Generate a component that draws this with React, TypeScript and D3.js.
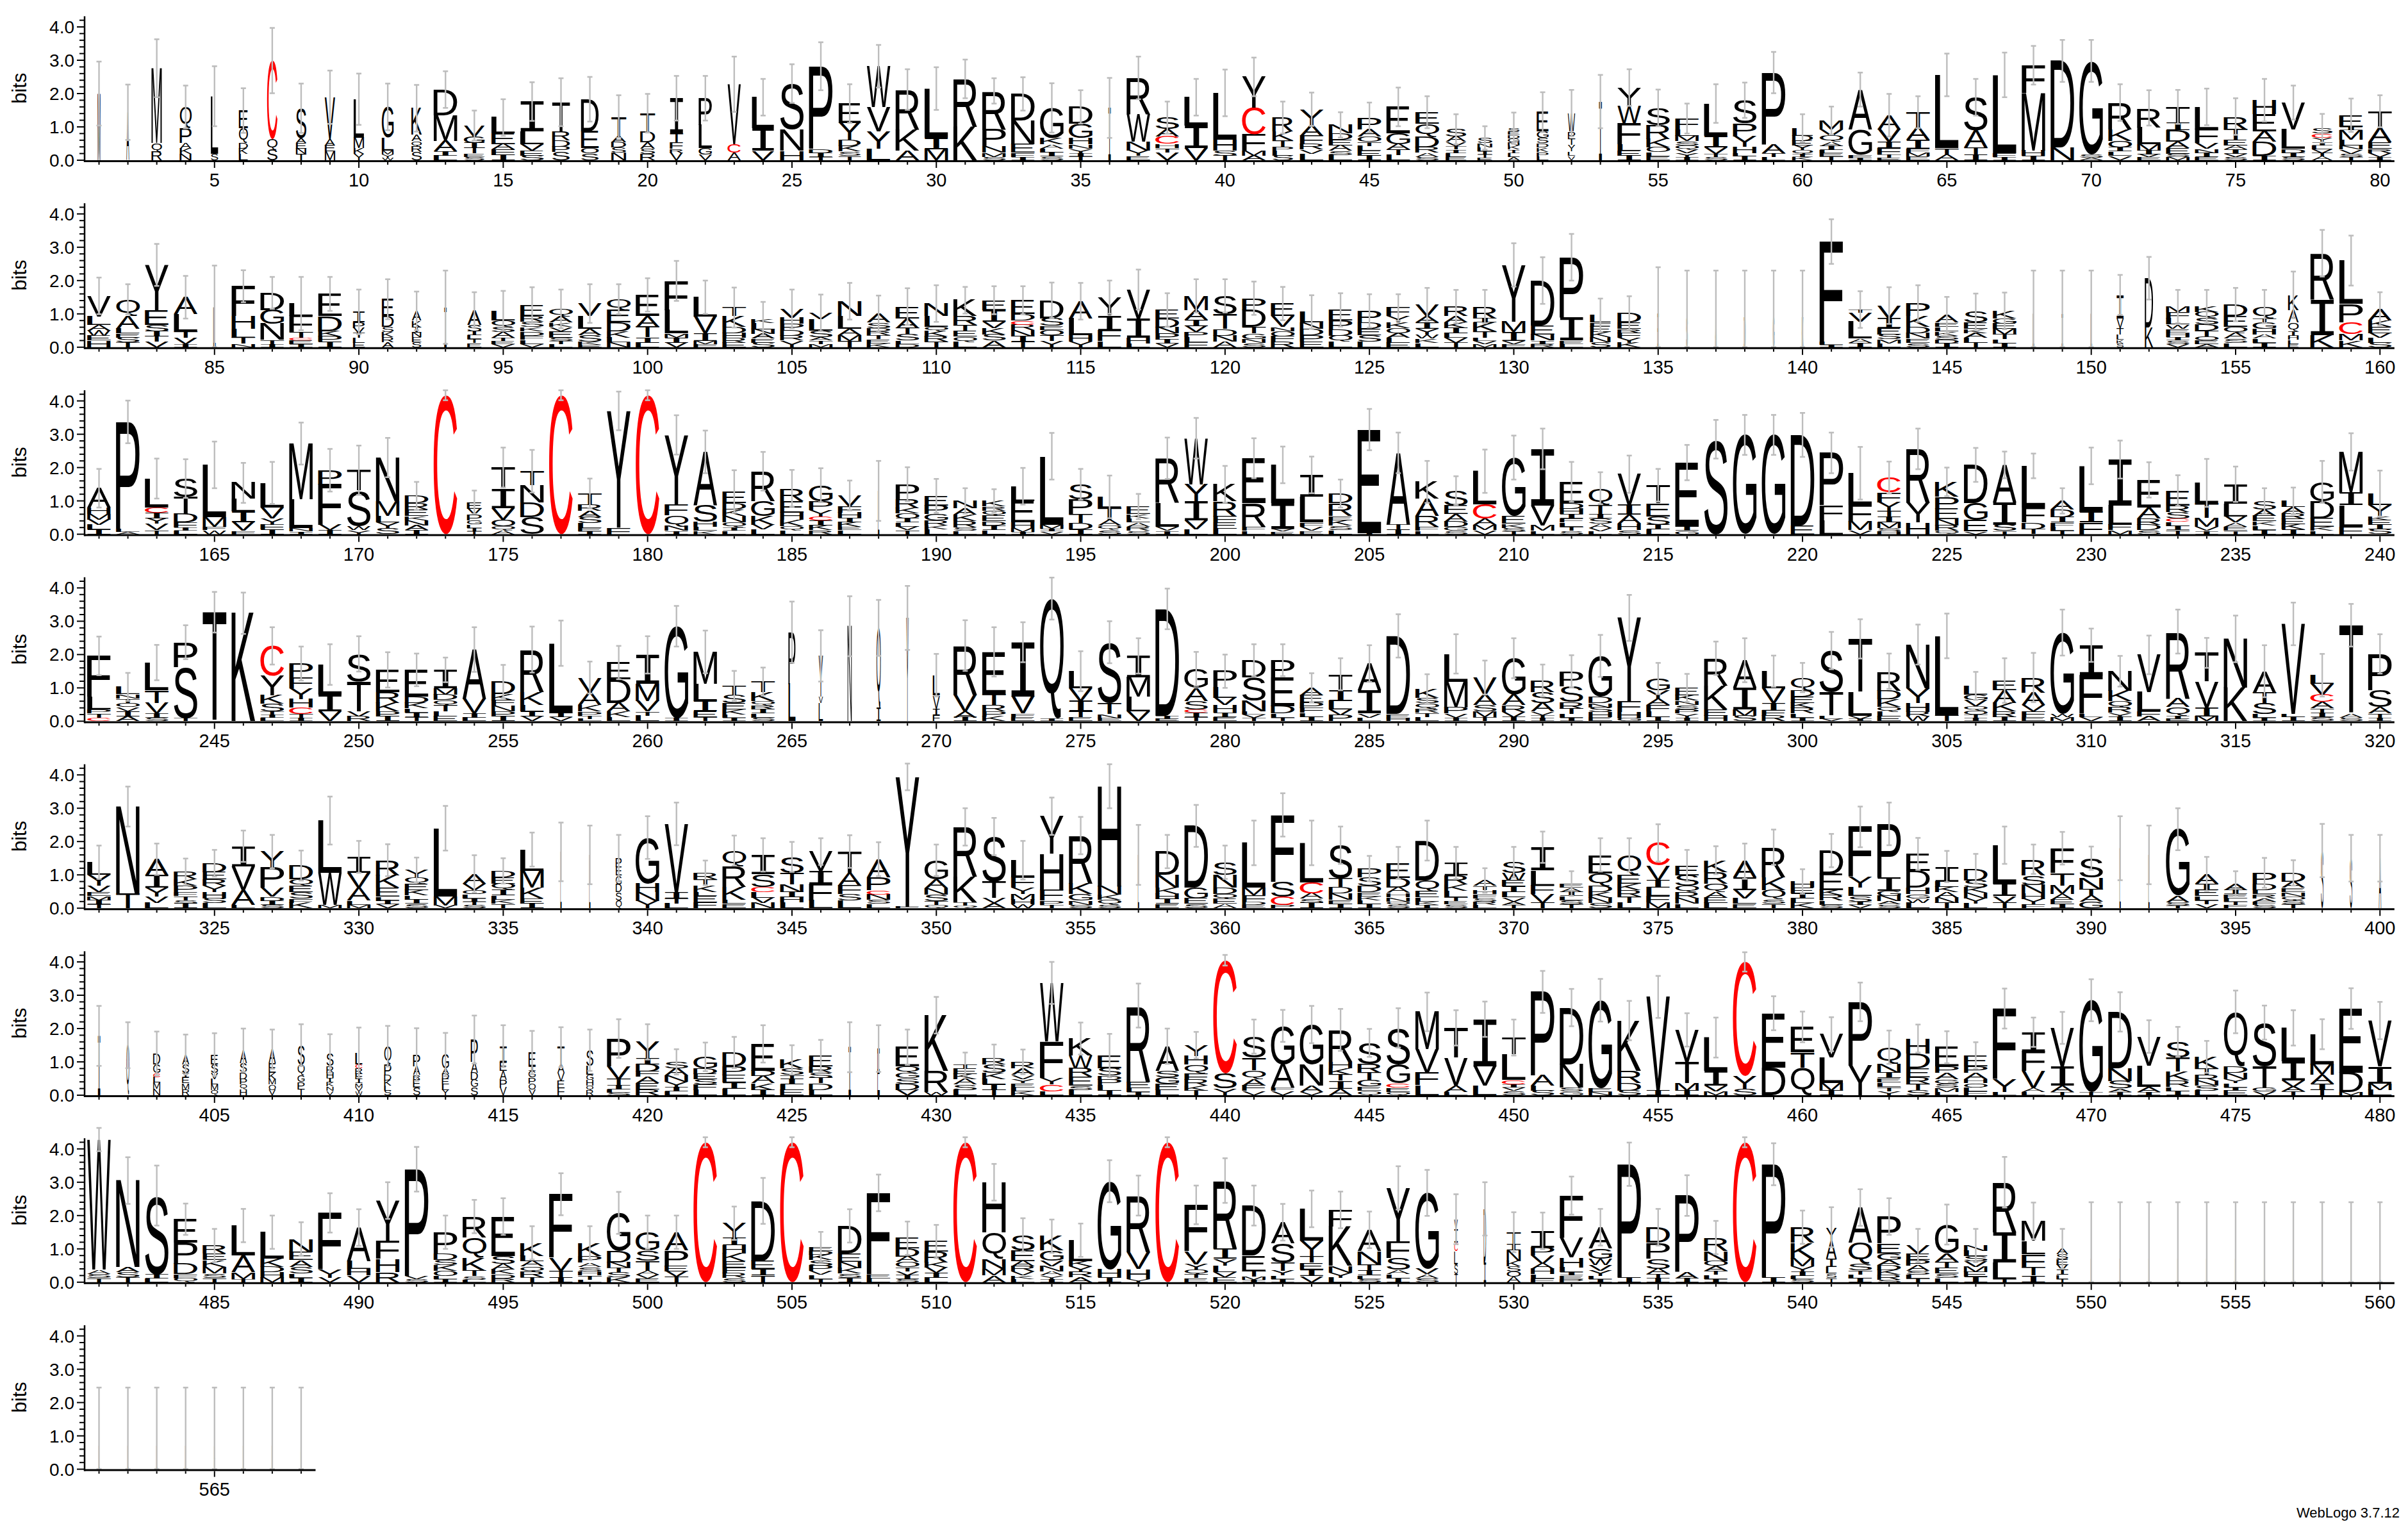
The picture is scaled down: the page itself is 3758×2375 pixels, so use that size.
import React, { useEffect, useRef } from "react";
import * as d3 from "d3";

// Each entry: letters (top first, letter+bits) | error (bits) | stack width fraction
const row1 = [
"M2.0|.96|.12","A1.44|.83|.12","M2.24,Q.26,R.26|.87|.44","Q.64,P.45,A.16,K.16,N.19|.64|.5","L1.73,S.19|.9|.31",
"E.53,Q.45,D.16,K.16,L.19|.67|.38","C2.35,Q.32,S.32|.98|.44","S.9,A.15,E.16,N.16,T.19|.74|.44","V1.25,A.19,E.19,M.26|.8|.44","L1.15,M.32,K.16,Y.2|.77|.44",
"G.93,L.38,M.12,Y.1,W.07|.7|.5","K.8,A.19,Q.16,R.16,S.25|.7|.44","D.77,M.77,A.32,I.12,L.14|.55|1","V.32,G.2,I.16,T.16,E.1,S.1|.45|.88","L.48,E.32,A.16,F.16,I.16|.55|1",
"I.9,L.38,V.19,E.15,S.14|.58|1","T.88,R.26,D.19,P.16,S.25|.72|.75","D.96,E.51,O.16,S.2|.67|.75","T.58,A.19,D.16,S.16,N.22|.64|.63","T.55,D.32,A.19,S.16,R.19|.58|.63",
"I1.06,T.26,F.19,R.13,V.22|.67|.56","P.8,L.7,G.19,V.17|.67|.56","V1.8,C.26,A.22|.83|.56","L.93,I.68,V.28|.55|.94","S1.38,N.64,H.28|.58|1",
"P2.47,D.13,I.12,T.1|.72|1","E.58,Y.51,D.19,K.16,S.13,T.13|.58|.94","W1.22,V.74,Y.51,L.35|.64|1","R1.19,K.64,A.29|.61|1","L1.47,I.35,M.33|.64|1",
"R1.44,K1.0|.58|1","R1.15,P.51,N.19,M.13,S.1|.38|1","D.8,N.7,E.26,F.13,I.1|.5|1","G.9,K.19,A.13,L.12,I.12,S.11|.74|1","D.51,G.42,H.19,N.13,Y.13,I.1,T.12|.5|1",
"I1.57|.9|.1","R1.09,W.83,N.26,Y.16,E.13|.64|1","S.35,A.22,C.22,H.13,T.13,V.23|.48|1","L.86,I.67,V.36|.55|1","L1.41,H.32,S.15,T.14|.7|1",
"Y.93,C.8,F.48,M.15,A.14|.58|1","R.42,K.26,T.19,P.13,L.14,S.14|.48|.88","Y.47,A.32,F.26,R.16,V.12,L.2|.5|1","N.26,D.19,E.16,A.16,S.13,L.16|.38|1","P.35,A.22,O.16,T.13,L.14,E.14,I.14|.45|1",
"E.8,G.32,A.16,T.16,L.16|.58|1","E.35,Q.38,D.32,R.16,A.13,S.1|.48|1","S.22,A.16,V.13,T.1,I.1,L.12,E.1|.45|.88","S.16,N.12,L.12,I.1,T.1,E.07|.35|.63","S.1,E.1,D.1,G.12,N.1,K.12,I.1,L.12,A.1|.47|.5",
"E.58,G.19,S.16,D.13,K.13,P.13,L.12|.6|.5","W.55,P.2,T.2,Y.2,L.13,V.13|.7|.31","I1.76|.8|.12","Y.55,W.51,F.64,L.19,E.15,I.14|.55|1","S.51,R.42,K.26,O.14,L.12,E.12|.55|1",
"F.32,L.19,M.16,S.13,Q.12,V.12,Y.11,I.1|.45|1","L.96,I.35,V.19,T.1,S.1|.58|1","S.7,P.38,Y.32,H.19,L.1,I.11|.53|1","P2.15,A.26,T.13,L.09|.62|1","L.22,D.16,E.14,Y.14,Q.12,I.09,K.09|.42|.88",
"M.26,V.19,Q.19,A.13,I.11,L.1,E.1,T.11|.42|1","A1.19,G.77,F.1,I.06|.51|1","A.42,V.38,I.19,F.19,T.1,E.07|.64|1","T.45,A.38,I.26,F.12,M.11,E.12|.48|1","L2.2,T.2,A.16|.64|1",
"S1.0,A.51,T.22,I.16|.55|1","L2.34,F.12,I.1|.67|1","F.83,M1.73,H.16,I.13|.58|1","D2.6,N.38|.63|1","G2.8,S.1,A.08|.63|1",
"R.8,K.35,O.19,I.13,L.13,V.13|.55|1","R.58,L.51,M.19,I.11,V.09,E.09|.53|1","T.48,I.22,D.35,A.19,E.16,S.1,M.1|.51|1","L.67,F.42,V.16,N.13,I.12,E.1|.55|1","R.38,T.32,E.16,A.13,I.12,V.1,S.1|.55|1",
"H.42,E.51,A.32,D.42,I.13|.64|1","V.8,L.58,D.13,I.12,S.1|.51|1","S.16,C.13,Y.12,I.1,L.12,V.11,T.11,A.11|.43|.88","E.35,I.1,M.29,L.16,N.13,V.12,S.1,T.1|.5|1","T.48,A.45,E.19,R.13,V.12,I.1|.48|1",
];

const row2 = [
"V.62,L.26,A.16,W.16,E.14,H.2|.55|1","Q.51,A.38,L.14,E.13,S.14,T.14|.45|1","Y1.35,E.45,S.19,I.16,T.16,V.16|.63|1","A.51,L.51,T.19,V.19,I.1|.64|1","L1.2|1.25|.1",
"F.9,H.38,L.26,T.19,N.1|.48|1","D.51,G.42,N.48,T.12,I.1|.48|1","L.38,F.48,T.16,C.08,E.11,I.1|.8|1","E.67,D.45,K.16,P.16,I.16|.51|1","I.32,P.16,V.16,T.14,L.14,E.14|.67|.5",
"E.51,D.32,S.16,K.15,R.15,A.15|.6|.5","A.29,K.2,I.16,N.14,E.15,S.15|.58|.4","I1.2|1.1|.1","A.45,S.19,I.12,L.12,T.12,E.12|.53|.6","L.29,Q.19,S.16,A.16,T.1,E.1,V.09|.6|1",
"E.32,R.16,S.16,K.13,D.13,F.12,L.13,V.1|.55|1","Q.22,A.19,K.13,V.13,E.19,S.1,T.1,L.09|.58|1","V.38,L.38,A.19,S.19,K.1,E.07|.58|1","Q.32,E.38,D.26,K.19,L.14,N.15|.45|1","E.64,A.32,T.32,I.15,L.14|.5|1",
"F.87,L.7,M.13,I.15,V.14|.6|1","L.58,V.51,I.22,M.1,F.09|.5|1","T.26,K.32,D.19,H.14,R.14,E.14|.6|1","K.13,L.19,N.14,A.14,E.12,S.14|.5|1","V.26,H.19,P.19,D.16,R.15,Y.2|.58|1",
"V.19,L.35,S.19,A.1,T.1,M.1|.55|1","N.45,L.38,A.19,M.17,T.19|.55|1","A.26,S.16,D.1,R.12,T.12,E.12,K.12|.55|1","E.35,A.29,T.19,S.19,L.1,D.1|.55|1","N.38,L.32,Q.13,K.16,R.16,T.16|.55|1",
"K.48,R.26,T.19,E.16,Q.16,L.16|.4|1","E.29,I.35,V.19,K.19,S.19,A.2|.42|1","E.42,D.19,C.13,R.16,N.19,I.16,T.16|.42|1","D.55,S.22,E.13,O.16,T.16,Y.19|.53|1","A.51,L.51,H.2,Y.16|.55|1",
"Y.55,I.45,F.32,L.18|.5|1","V.87,I.58,H.16,L.12|.6|1","E.26,D.26,N.19,P.19,I.11,V.11|.5|1","M.42,A.29,I.19,V.19,P.15,L.15,F.15|.5|1","S.55,T.45,D.19,N.19,A.16|.5|1",
"P.35,D.51,T.2,G.16,N.12,S.13|.5|1","E.38,V.32,N.13,O.16,F.16,R.16|.5|1","L.32,N.19,D.19,P.19,E.17|.5|1","E.32,P.26,D.19,Q.18,L.17|.5|1","P.35,D.19,E.19,S.19,L.17|.5|1",
"F.26,Y.19,K.16,O.16,A.14,L.14,E.14|.4|1","V.35,A.19,I.19,Y.16,W.13,K.13,L.13|.5|1","R.29,A.19,K.16,I.16,L.14,V.14,T.14|.5|1","R.35,I.13,K.26,T.19,L.1,V.1,M.09|.5|1","Y1.7,M.32,I.26,V.1,F.09|.65|1",
"D1.35,E.26,N.19,I.1,R.1|.7|1","P1.8,I.7,E.1,L.1|.7|1","L.22,F.13,E.16,K.15,N.15,S.15|.5|.88","D.29,E.19,R.13,F.14,Y.14,K.14|.5|1","E1.0|1.4|.06",
"S.9|1.4|.06","A.9|1.4|.06","D.9|1.4|.06","G.9|1.4|.06","K.9|1.4|.06",
"F3.0,L.1,I.07|.67|1","T.1,V.26,L.51,A.13,I.13|.55|1","V.38,I.29,E.19,S.14,M.13,L.12|.55|1","P.38,K.32,D.19,N.16,E.13,S.13|.55|1","A.22,E.13,L.13,K.13,S.12,D.12,I.11|.55|1",
"S.32,E.19,K.13,A.14,L.14,T.14|.55|1","K.22,G.16,E.16,M.16,T.14,L.13,I.12|.55|1","L1.0|1.3|.06","I1.0|1.3|.06","L1.0|1.3|.06",
"I.7,V.3,T.2,L.15,K.1,S.12|.6|.3","D1.47,K.6|.64|.35","M.16,F.19,L.19,W.13,E.13,H.12,I.1,S.1,V.1|.5|1","K.16,Q.19,S.19,D.19,T.16,O.12,E.11,A.1|.5|1","D.35,E.32,Q.19,A.16,S.13,L.13|.5|1",
"Q.35,T.13,G.19,H.16,A.13,L.13,I.13|.5|1","K.45,A.38,Q.26,I.13,H.13,L.12,E.1|.7|.45","R1.4,I1.05,K.37|.7|1","L1.3,P.55,C.35,M.2,K.2|.75|1","A.35,K.19,E.19,V.14,L.14,S.14|.5|1",
];

const row3 = [
"A.58,H.2,M.16,V.16,L.14,I.14|.58|1","P3.2,L.1,A.07|.64|1","L.87,C.16,I.16,Y.16,V.19,T.13|.6|1","S.55,T.51,D.26,F.14,I.1,L.11|.58|1","L1.57,M.29,F.1,W.12|.7|1",
"N.48,L.38,I.32,V.26,F.1|.6|1","L.74,V.32,Y.19,F.15,I.14|.63|1","M1.67,L.87,N.1,I.08|.63|1","P.42,F1.22,V.16,I.12|.64|1","T.61,S1.06,W.13,Y.12|.74|1",
"N1.3,M.45,L.19,Y.19,S.17|.59|1","D.22,R.19,E.19,K.13,N.15,A.14,I.13|.42|1","C4.17|.15|1","E.19,V.19,P.16,G.13,L.1,I.1,T.09|.35|.63","T.64,I.58,V.35,O.19,Q.12,A.12|.6|1",
"T.42,N.51,D.45,S.51|.64|1","C4.17|.15|1","T.32,R.19,A.19,S.19,L.14,E.1,I.09|.45|1","Y3.5,F.2|.58|1","C4.17|.15|1",
"Y2.1,F.32,Q.32,N.14,I.1|.59|1","A1.6,S.5,H.15,L.12,K.1|.64|1","E.35,D.19,K.19,N.19,Q.16,I.1,L.1|.64|1","R.9,G.45,K.26,V.14,L.14|.58|1","R.38,E.35,H.22,K.19,Q.13,L.11|.55|1",
"G.48,P.26,Y.19,C.13,I.14,K.14,R.13|.51|1","V.32,F.19,H.16,I.13,K.14,E.1,L.12|.45|1","L1.3|.9|.06","P.45,R.26,K.16,O.16,I.12,L.12,V.11,T.12|.51|1","E.29,P.26,G.19,R.14,K.13,L.14|.51|1",
"N.22,A.2,K.19,R.19,S.1,L.1|.38|1","K.16,R.13,Q.16,E.16,D.13,I.13,L.13|.35|1","L.45,E.64,H.16,M.12,I.07|.55|1","L2.05,M.13,I.08,V.08|.7|1","S.45,P.45,T.26,D.19,I.15|.46|1",
"L.32,T.38,A.16,Q.13,S.13|.64|1","E.22,K.13,L.13,A.13,R.11,S.11|.38|1","R1.35,L.7,V.13,I.1|.62|1","W1.38,Y.51,I.58,V.26,L.15|.61|1","K.51,R.45,F.19,E.19,L.16|.55|1",
"E1.35,R.7,F.13,L.1|.6|1","L1.15,I.77,V.08,E.08|.55|1","I.65,L.77,F.13,V.13,E.1|.55|1","D.29,R.38,E.13,K.16,S.13,L.13|.42|1","E3.1,I.04|.62|1",
"A2.15,T.15,I.14|.61|1","K.51,A.51,R.32,F.13,L.1|.63|1","S.45,E.26,A.22,D.16,G.12,S.1|.43|1","L1.0,C.42,A.19,M.15,V.13|.65|1","G1.76,E.22,K.13,S.1,T.09|.66|1",
"I1.7,V.6,M.16,L.1|.61|1","E.64,D.16,H.16,I.13,F.13,L.12,T.13,S.1|.6|1","Q.51,T.26,I.13,S.16,A.13,V.1,L.09|.48|1","V.93,I.29,A.26,H.19,S.13|.56|1","T.55,E.38,S.26,I.14,L.14|.49|1",
"E1.92,I.13,G.1|.53|1","S2.85|.58|1","G2.98|.6|1","G2.98|.6|1","D2.72,E.26|.66|1",
"P1.57,F.45,L.42|.61|1","L.95,F.5,M.26,V.12|.79|1","C.45,F.29,Y.26,T.19,I.16,M.16,S.1,H.09|.48|1","R1.63,Y.58,H.35|.61|1","K.45,P.35,E.32,N.19,R.16,Q.1|.43|1",
"D1.15,G.5,E.35,V.08|.51|1","A1.12,I.67,S.19,T.1|.4|1","L1.25,F.45,D.2,T.15|.37|1","A.26,D.22,I.16,F.13,L.12,T.11|.38|1","L1.38,I.32,F.35|.55|1",
"I1.38,L.58,F.16,M.12|.57|1","E.83,A.32,R.19,D.16,S.13|.53|1","E.45,R.19,S.19,C.1,L.13,I.13,T.12|.46|1","L.61,T.45,M.26,V.12,I.1|.72|1","I.58,L.38,V.19,A.13,E.12,T.1|.53|1",
"S.26,A.19,E.16,K.13,L.13,I.13|.38|1","L.19,A.19,R.16,E.16,K.16,I.14|.4|1","G.58,D.51,E.26,K.12,L.1|.63|1","M1.22,I.38,L.64,F.23|.56|1","L.35,Y.32,K.13,E.14,I.14,S.14|.69|1",
];

const row4 = [
"F1.22,L.38,P.13,T.13,C.1|.58|1","L.22,N.13,T.13,O.13,V.13,I.14,A.15|.42|1","L.83,T.38,V.32,I.12,S.11|.53|1","P.74,S1.54,T.09|.51|1","T3.27|.61|1",
"K3.24|.62|1","C.9,Y.58,K.26,S.22,T.1,I.1,L.1|.56|1","P.42,F.32,Y.32,H.26,C.19,T.12,I.1|.51|1","L.9,I.5,V.3|.61|1","S.83,T.9,V.14,R.15|.53|1",
"E.67,R.32,K.26,P.15,I.14|.53|1","E.8,D.19,K.16,L.13,I.13,T.13|.49|1","I.55,M.19,D.16,Q.16,T.19,L.15,E.14|.37|1","A1.47,V.45,I.12,L.11|.67|1","D.38,K.19,F.16,N.16,P.15,I.15|.5|1",
"R1.28,K.38,L.19,I.15,V.15|.69|1","L2.1,I.12,V.12|.68|1","V.45,A.38,K.19,P.12,T.1,L.07|.48|1","E.51,D.7,A.26,K.16,L.13|.5|1","I.87,M.51,V.32,T.13,L.16|.56|1",
"G2.76,I.09|.61|1","M.96,L.51,I.32,E.16,T.13|.64|1","T.26,S.26,E.19,K.15,L.1,I.1|.45|1","T.32,K.26,Q.13,R.13,I.12,L.12,S.11|.42|1","P1.55,L1.12|.92|.3",
"Y1.22,V.2,L.54|.77|.18","N2.85|.9|.18","Q2.4,I.4|.84|.18","Y3.1|.96|.1","L.6,V.4,I.2,F.18|.64|.3",
"R1.47,V.5,A.19,I.11|.76|1","E1.28,T.32,R.19,P.15,K.14|.74|1","I1.63,V.51,F.1,E.13|.6|1","Q3.6,I.08|.63|1","L.51,V.38,I.32,T.16,E.13|.6|1",
"S1.83,T.32,N.13,E.09|.63|1","I.64,M.58,L.45,V.29|.53|1","D3.2,I.1,E.07|.61|1","G.58,A.38,S.26,C.1,I.12,T.13|.51|1","P.48,L.32,V.22,H.22,I.13,E.13|.5|1",
"D.51,S.7,N.32,L.1,V.1,T.1|.48|1","P.51,E.87,D.22,L.13,T.1|.48|1","A.22,E.22,P.16,F.14,L.13,I.13|.44|1","T.48,I.32,L.26,V.16,P.19|.48|1","A.8,I.7,V.13,L.1|.55|1",
"D2.34,E.13,H.09|.65|1","K.26,S.16,Q.16,R.13,T.13,L.12|.45|1","L.83,M.77,P.19,V.13,I.1|.59|1","V.51,A.32,S.19,M.16,T.13|.51|1","G1.09,A.32,R.2,V.15,I.13|.6|1",
"R.35,S.32,A.26,V.1,T.1,I.09|.48|1","P.45,S.48,R.19,T.16,L.12,I.1|.48|1","G1.22,D.19,N.13,S.15,H.14,E.13|.63|1","Y2.5,F.32,H.19,G.09|.69|1","G.35,Y.26,A.19,F.19,L.16,I.13|.47|1",
"E.22,K.16,N.13,S.13,P.13,Y.13,I.1|.42|1","R.83,K.7,E.19,H.17|.5|1","A.83,I.64,M.19,S.17|.66|1","L.51,V.45,I.22,F.16,R.16|.47|1","Q.38,D.19,E.19,K.16,R.16,L.13,I.1|.44|1",
"S1.25,T.7,L.1,V.07|.56|1","T1.6,L.7,V.1,I.07|.59|1","R.58,D.26,K.22,Q.16,L.14,E.14|.53|1","N1.31,Y.45,H.26,R.14,W.14|.6|1","L2.4,T.16|.67|1",
"L.26,G.16,V.19,Q.13,O.12,T.1,I.1|.42|1","E.29,A.38,K.26,R.16,I.13|.67|1","R.45,A.38,V.19,F.16,E.13|.74|1","G2.44,W.1,M.12|.69|1","I.9,F1.15,L.1,V.13|.5|1",
"N.58,K.32,Q.19,R.16,Y.13,I.12|.46|1","V1.12,L.58,F.15,A.14|.58|1","R2.0,A.26,Q.26,I.1,E.07|.66|1","T.87,V.77,I.26,M.15|.45|1","N1.47,K1.0|.7|1",
"A.64,T.32,S.32,L.12,I.1|.78|1","V2.7,L.1,I.12|.64|1","L.26,V.32,C.22,A.19,T.13,I.13,S.13|.64|1","T2.66,A.12,S.1|.64|1","P1.09,S.51,A.19,T.13,I.1|.59|1",
];

const row5 = [
"L.38,Y.32,V.19,E.13,M.13,I.12,T.11|.5|1","N2.6,T.45|.6|1","A.48,I.38,Y.26,V.19,L.16|.47|1","R.22,K.19,P.19,F.13,T.12,S.1,I.14|.4|1","D.26,E.22,R.19,Y.19,H.19,S.15,L.15|.4|1",
"I.61,V.7,A.45,L.1|.47|1","Y.48,P.61,V.26,D.13,I.12,S.1|.5|1","D.42,Q.19,E.19,S.19,F.13,K.16|.45|1","L1.57,W.96,M.1|.72|1","I.48,V.45,A.38,L.13,M.1|.48|1",
"R.45,K.38,E.26,L.13,I.11,V.11|.48|1","Y.22,Q.19,E.19,K.16,L.13,I.13,S.13|.37|1","L2.05,M.26,V.09|.67|1","A.29,V.19,O.13,L.12,I.1,T.1,S.1|.56|1","D.19,E.19,Q.19,I.16,L.13,K.13,T.13|.38|1",
"L.64,M.51,K.32,E.15,I.14|.51|1","L1.69|.88|.05","L1.6|.88|.05","P.26,E.26,G.26,D.24,S.24,Q.24|.7|.25","G1.38,H.26,N.26,Y.22|.64|1",
"V2.05,I.19,T.15,L.14|.64|1","R.19,T.19,K.19,L.13,E.19,F.17|.37|1","Q.48,R.61,K.38,L.13,E.13|.45|1","I.58,S.38,C.16,L.16,V.16,N.16|.5|1","S.48,T.35,N.22,I.16,H.16,L.17|.45|1",
"V.58,I.38,F.5,L.24|.4|1","T.64,A.38,F.26,S.19,L.23|.49|1","A.55,P.38,C.13,N.16,S.12,L.13|.51|1","Y3.9,F.04|.4|1","G.58,A.26,N.19,S.19,T.12,Q.1|.47|1",
"R1.5,K.77,T.1,Q.07|.56|1","S1.35,T.5,V.15,A.15|.56|1","L.51,F.32,Y.19,M.16,H.14,W.12|.58|1","Y1.12,H1.09,F.32,P.13,T.1|.56|1","R1.44,K.32,G.19,N.13,S.1|.56|1",
"H3.0,N.26,K.15,Q.15,S.1|.66|1","L1.6|.9|.05","D.7,N.38,K.19,H.16,I.14,E.13|.5|1","D1.86,G.32,E.16,S.13|.63|1","S.38,N.38,D.19,Q.16,E.14,A.13|.5|1",
"L1.35,M.22,F.19,D.1,E.1|.67|1","F2.0,S.45,C.25,P.1|.65|1","L1.19,C.32,A.16,S.13,I.16|.67|1","S1.0,T.26,D.19,N.19,E.13,I.12|.56|1","P.26,S.26,D.19,E.13,K.12,L.12,I.11|.38|1",
"E.45,D.29,A.16,H.13,N.13,Q.1,S.1|.48|1","D1.19,Q.32,E.19,L.13,K.1,I.1|.6|1","I.38,R.26,K.19,L.19,T.13,E.1,S.11|.48|1","A.16,T.13,H.12,F.12,S.1,R.1,L.1|.37|1","S.32,W.22,E.19,I.16,L.16,V.13,A.1,T.1|.46|1",
"I.7,L.45,F.26,V.26,T.16|.47|1","E.13,A.13,I.12,L.12,S.12,T.12|.37|1","E.55,Q.38,D.19,K.16,N.16,S.16|.5|1","Q.61,E.26,K.19,R.19,T.19,L.16|.5|1","C.67,V.45,I.22,L.26,F.19,M.17|.56|1",
"E.29,S.32,Q.19,R.19,N.16,L.13|.47|1","K.35,R.35,Q.26,A.16,E.16,L.16|.42|1","A.48,I.38,V.26,L.16,E.13|.53|1","R.9,K.38,Q.29,S.13,T.13|.53|1","H.19,E.16,I.15,L.15,K.15|.37|1",
"D.7,E.48,K.16,R.16,L.13,S.1|.5|1","F1.5,Y.32,L.26,S.16,I.1,V.1|.61|1","P1.6,I.4,G.16,N.16,A.1,S.11|.64|1","E.51,D.51,H.19,G.13,W.13,L.16|.48|1","I.45,L.16,K.16,A.16,N.16,T.16|.47|1",
"D.35,S.22,K.16,N.16,Y.16,L.14|.44|1","L1.15,I.38,V.2,T.16|.56|1","R.48,S.29,N.26,H.16,Y.16,F.12|.44|1","F.74,T.38,M.26,A.16,E.14,I.12|.49|1","S.58,N.35,T.19,A.19,G.19|.35|1",
"L1.8|.96|.05","L1.6|.88|.05","G2.0,A.19,S.1,T.08|.63|1","A.29,I.19,E.19,L.12,T.12,V.12|.51|1","A.19,I.13,E.12,L.1,T.1,F.1|.37|1",
"P.32,D.19,L.13,R.12,A.1,F.1,S.1|.45|1","D.26,A.19,E.13,N.13,Q.12,S.12,T.11|.38|1","S1.73|.8|.1","S1.5|.7|.1","A1.5|.7|.1",
];

const row6 = [
"I1.78|.9|.1","Q1.5|.69|.12","D.32,G.26,C.13,L.16,M.19,N.19|.66|.3","A.29,S.26,I.13,E.18,M.18,R.18|.6|.3","E.29,S.26,V.19,L.16,M.16,Q.16|.64|.3",
"A.38,S.29,D.19,P.16,Q.16,H.17|.65|.3","A.42,E.29,K.19,M.16,O.16,V.16|.59|.3","S.58,Q.32,G.2,P.2,T.2|.63|.3","S.38,R.19,H.16,I.13,K.13,N.13,V.13|.58|.3","L.35,C.13,R.16,F.16,I.12,M.12,V.12,W.12|.75|.3",
"Q.55,P.32,D.16,K.16,L.14,S.14|.61|.3","P.35,A.26,R.13,E.24,S.24|.79|.3","G.42,A.16,D.16,E.16,L.16,Y.16|.65|.3","P.67,A.32,D.22,G.22,S.24|.72|.3","I.48,E.26,A.26,P.23,V.24|.63|.3",
"E.42,I.13,G.2,P.18,O.17,V.18|.65|.3","T.51,A.26,V.24,E.22,F.21|.6|.3","S.48,L.26,G.16,H.16,Q.15,R.14|.62|.3","P.83,V.38,T.19,I.12,L.1,S.08|.58|1","Y.48,I.19,D.22,F.16,A.19,E.19,R.17|.53|1",
"S.19,A.22,N.19,Y.16,I.12,L.12|.38|1","G.35,D.16,E.16,S.16,F.16,L.16|.43|1","D.42,P.26,E.22,I.19,L.19|.47|1","E.8,D.16,A.22,K.2,I.16|.56|1","K.26,S.19,T.13,I.16,L.16,E.16|.44|1",
"E.32,R.19,S.16,T.16,D.2,L.16|.47|1","I1.44|.75|.1","E1.4|.7|.1","E.58,Q.19,G.16,S.16,D.19,V.16|.53|1","K1.67,R.64,W.09|.55|1",
"T.13,E.16,K.16,A.16,S.16,L.16|.35|1","R.19,S.26,K.19,L.16,I.16,T.16|.4|1","R.19,A.19,V.13,Y.13,E.12,L.12,K.12|.37|1","W1.76,F1.09,Y.2,C.2,L.12|.63|1","K.51,W.38,R.26,E.26,S.13,L.16|.48|1",
"E.38,S.22,D.13,P.16,L.16,I.14|.65|1","R2.28,E.19,L.12,I.1|.66|1","A.74,S.19,G.19,E.19,L.16|.53|1","Y.32,H.26,Q.26,F.19,R.19,K.14,T.14|.4|1","C3.4,S.45,Y.2|.16|1",
"S.64,T.38,Q.26,A.19,F.16,V.13|.51|1","G1.15,A.7,F.1,V.13|.48|1","G1.19,N.64,A.19,V.1|.56|1","R.96,H.19,K.19,T.19,I.23,A.2|.63|1","S.64,R.26,T.22,G.19,E.13,Q.13|.42|1",
"S1.09,G.58,C.13,E.12,Q.1|.59|1","M1.12,V.7,F.38,L.3|.58|1","T.9,V.83,A.19,L.1|.53|1","I1.41,V.58,L.29|.53|1","T.5,L.77,C.13,I.1,V.1,S.13|.54|1",
"P2.5,A.32,L.14,S.14|.63|1","D1.7,N.7,S.12,G.11|.56|1","G2.63,E.12,N.1|.64|1","K1.5,R.38,D.22,S.14|.59|1","V2.8,I.15|.63|1",
"V.96,T.64,M.22,I.14|.5|1","L1.0,I.45,V.16,M.12|.6|1","C3.43,Y.38,S.19|.29|1","E1.63,D.83|.51|1","E.77,T.45,Q.83|.46|1",
"V.7,L.77,M.22,I.14|.51|1","P1.9,Y.9|.58|1","Q.51,N.26,I.16,E.13,L.13,T.13,Y.12|.5|1","H.45,D.45,E.26,R.19,T.19,S.16|.42|1","E.58,P.19,A.19,G.13,S.13,M.12,L.1|.48|1",
"E.32,P.19,A.19,H.13,O.13,L.12,F.11|.4|1","F2.12,Y.38,L.1|.6|1","I.58,F.58,V.51,A.12,L.1|.44|1","V1.15,I.58,A.19,T.1|.48|1","G2.76,T.09|.63|1",
"D1.7,N.38,S.22,A.1,I.1|.59|1","V.87,L.64,A.15,I.1|.49|1","S.48,T.42,K.26,R.19,L.13,I.12|.45|1","K.35,T.19,R.19,N.14,S.14,L.14|.48|1","Q1.63,D.19,N.19,Y.12,L.13,I.1,E.14|.64|1",
"S1.31,T.64,G.12,V.11|.51|1","L1.0,I.58,V.19,A.14,T.11|.53|1","L.9,M.32,A.26,I.19,T.16|.45|1","E1.92,D.58,M.1|.61|1","V1.38,I.51,M.19,L.16|.56|1",
];

const row7 = [
"W3.9,A.13,S.13,T.12|.35|1","N2.6,A.15,S.15,T.15|.7|1","S2.36,I.12,L.12|.9|1","E.7,P.63,D.31,F.13,Q.12|.47|1","R.24,E.2,K.2,M.2,S.13,T.13|.5|1",
"L.9,A.5,M.2,T.1|.5|1","L.8,K.24,D.16,H.16,M.14|.5|1","N.4,E.24,A.2,S.2,L.13,I.13|.5|1","F1.7,Y.24,V.14|.59|1","A1.0,L.24,H.2,V.2|.55|1",
"Y1.2,F.55,H.4,R.3|.55|1","P3.2,V.1,S.09|.67|1","P.63,D.2,S.16,K.16,O.16,L.1,I.09|.5|1","R.63,Q.6,K.4,T.16,S.1,L.08|.5|1","E1.18,S.24,A.16,K.14,D.13,R.12|.55|1",
"K.39,L.16,A.16,Q.16,R.16,T.15|.5|1","F1.9,V.4,T.2,I.14|.63|1","K.39,P.2,A.13,S.13,H.13,T.12,L.08|.5|1","G1.14,D.35,N.16,T.15,S.14,K.14|.63|1","G.55,S.31,T.3,A.12,V.11,E.11|.5|1",
"A.55,P.47,E.16,V.16,T.16|.5|1","C4.2|.15|1","Y.43,I.23,H.24,K.24,E.2,F.16,R.14,S.13|.5|1","D1.8,E.24,I.2,T.2|.69|1","C4.2|.15|1",
"E.12,D.12,K.16,S.16,P.16,V.12,L.12,T.1|.45|1","D.83,E.24,N.2,K.16,S.13,I.13|.5|1","F2.44,E.12,L.12|.55|1","E.31,D.24,A.16,O.16,T.13,V.11,I.11,S.1|.5|1","E.31,R.31,K.16,V.16,I.14,L.14|.5|1",
"C4.2|.15|1","H1.5,Q.8,N.3,M.2,A.2|.55|1","S.47,E.31,A.16,R.16,V.12,K.1,L.1|.5|1","K.43,G.31,V.16,N.16,A.12,Y.1,I.1|.5|1","L.63,K.16,Y.16,R.16,A.15|.5|1",
"G2.64,H.24,I.15|.63|1","R1.7,V.5,H.3,Y.1|.6|1","C4.2|.15|1","F1.38,V.4,Y.16,Q.14,T.12,E.12|.58|1","R2.05,I.3,Y.2,L.2,V.15,E.15|.67|1",
"D1.5,E.47,T.16,M.1,I.07|.6|1","A.63,S.59,T.24,Y.14,L.1,I.1|.55|1","L.95,Y.47,T.2,E.2,I.2,V.18|.55|1","F.5,K1.18,N.2,Y.15,L.14|.55|1","A.63,N.4,T.2,I.14,L.1,S.1|.55|1",
"Y1.6,F.5,S.35,A.13,L.13,I.12|.65|1","G2.28,V.16,A.12,S.12|.69|1","V.3,I.4,C.25,L.4,S.3,T.24|.75|.15","D1.6,I.6|.8|.1","T.35,I.2,N.31,K.16,S.16,O.16,A.16|.6|.6",
"I.5,P.24,V.24,A.16,H.16,L.12,F.12|.55|1","F1.26,V.6,H.3,L.14,I.1,E.1,P.1|.57|1","A.63,G.31,W.2,V.16,Y.16,L.1,I.09|.55|1","P3.4,I.14|.65|1","D.47,P.47,S.31,A.16,T.12,I.12|.55|1",
"P2.28,A.2,I.12|.61|1","R.4,N.3,O.15,A.14,T.13,L.12,I.1|.5|1","C4.2|.15|1","P3.4,I.14|.63|1","R.47,K.47,M.24,Y.16,I.12,L.1,S.09|.5|1",
"Y.4,A.55,I.24,L.2,S.13,T.13|.6|.45","A1.06,Q.63,S.2,T.12,L.12,I.11|.55|1","P.8,E.3,G.2,A.15,D.15,K.15,R.15,S.07|.55|1","V.24,E.2,P.16,A.16,S.12,L.11,T.11|.5|1","G.87,A.24,T.2,E.16,S.13,L.13|.6|1",
"N.16,L.16,S.16,V.16,M.16,E.14,I.16|.5|1","R1.5,I.9,L.5,T.1|.76|1","M.6,L.4,F.4,T.24,I.2|.55|1","A.16,S.16,E.16,V.16,I.14,L.12,T.1|.6|.5","L.7|1.7|.03",
"L.7|1.7|.03","L.7|1.7|.03","L.7|1.7|.03","L.7|1.7|.03","L.7|1.7|.03",
"L.7|1.7|.03","L.7|1.7|.03","L.7|1.7|.03","L.7|1.7|.03","L.7|1.7|.03",
];

const row8 = ["L.7|1.75|.03","L.7|1.75|.03","L.7|1.75|.03","L.7|1.75|.03","L.4,C.3|1.75|.03","L.7|1.75|.03","L.7|1.75|.03","C.7|1.75|.03"];

const rows = [row1, row2, row3, row4, row5, row6, row7, row8];
const rowStarts = [1, 81, 161, 241, 321, 401, 481, 561];
const yTickLabels = ["0.0", "1.0", "2.0", "3.0", "4.0"];
const footer = "WebLogo 3.7.12";

const WIDTH = 3758, HEIGHT = 2375;
const AXIS_X = 132, COL = 45.06, BASE0 = 250, ROW_STEP = 291.8, BIT = 52, MAXBITS = 4.32, LETTER_W = 37;

function parse(s: string) {
  const [l, e, w] = s.split("|");
  const letters = l.split(",").map((t) => ({ ch: t[0], h: +t.slice(1) }));
  return { letters, err: +e, w: w ? +w : 1 };
}

export default function App() {
  const ref = useRef<SVGSVGElement>(null);
  useEffect(() => {
    const svg = d3.select(ref.current);
    svg.selectAll("*").remove();
    svg.append("rect").attr("width", WIDTH).attr("height", HEIGHT).attr("fill", "#fff");
    const canvas = document.createElement("canvas");
    const ctx = canvas.getContext("2d")!;
    const metrics: Record<string, any> = {};
    const glyph = (ch: string) => {
      if (!metrics[ch]) {
        const fam = ch === "I" ? "'DejaVu Sans Mono'" : "'Liberation Sans', Arial, sans-serif";
        ctx.font = `100px ${fam}`;
        const m = ctx.measureText(ch);
        metrics[ch] = { fam, l: m.actualBoundingBoxLeft, r: m.actualBoundingBoxRight, a: m.actualBoundingBoxAscent, d: m.actualBoundingBoxDescent };
      }
      return metrics[ch];
    };
    const labelFont = "'Liberation Sans', Arial, sans-serif";

    rows.forEach((row, r) => {
      const base = BASE0 + r * ROW_STEP;
      const n = row.length;
      const x = d3.scaleBand<number>().domain(d3.range(0, 80)).range([AXIS_X, AXIS_X + 80 * COL]);
      const y = d3.scaleLinear().domain([0, MAXBITS]).range([base, base - MAXBITS * BIT]);
      const g = svg.append("g");
      const letters = g.append("g");
      const bars = g.append("g");

      row.forEach((s, i) => {
        const d = parse(s);
        const cx = (x(i) as number) + x.bandwidth() / 2;
        const lw = Math.max(1.3, LETTER_W * d.w);
        let acc = 0;
        d.letters.slice().reverse().forEach((L) => {
          const y0 = y(acc), y1 = y(acc + L.h);
          acc += L.h;
          const h = y0 - y1;
          if (h < 0.4) return;
          const m = glyph(L.ch);
          const iw = m.l + m.r, ih = m.a + m.d;
          letters.append("text").text(L.ch)
            .attr("font-family", m.fam).attr("font-size", 100)
            .attr("fill", L.ch === "C" ? "#ff0000" : "#000")
            .attr("transform", `translate(${cx - lw / 2},${y1}) scale(${lw / iw},${h / ih}) translate(${m.l},${m.a})`);
        });
        const ya = y(Math.max(0, acc - d.err)), yb = y(acc + d.err);
        bars.append("line").attr("x1", cx).attr("x2", cx).attr("y1", ya).attr("y2", yb).attr("stroke", "#bdbdbd").attr("stroke-width", 2.4);
        [ya, yb].forEach((yy) => bars.append("line").attr("x1", cx - 4).attr("x2", cx + 4).attr("y1", yy).attr("y2", yy).attr("stroke", "#bdbdbd").attr("stroke-width", 2.6));
      });

      // x axis
      const xEnd = AXIS_X + n * COL;
      g.append("line").attr("x1", AXIS_X).attr("x2", xEnd).attr("y1", base + 1.5).attr("y2", base + 1.5).attr("stroke", "#000").attr("stroke-width", 3);
      for (let i = 0; i < n; i++) {
        const p = rowStarts[r] + i;
        const cx = (x(i) as number) + x.bandwidth() / 2;
        const major = p % 5 === 0;
        g.append("line").attr("x1", cx).attr("x2", cx).attr("y1", base + 3).attr("y2", base + (major ? 12 : 7)).attr("stroke", "#000").attr("stroke-width", 2);
        if (major) {
          g.append("text").text(String(p)).attr("x", cx).attr("y", base + 41).attr("text-anchor", "middle")
            .attr("font-family", labelFont).attr("font-size", 29).attr("fill", "#000");
        }
      }
      // y axis
      g.append("line").attr("x1", AXIS_X).attr("x2", AXIS_X).attr("y1", base + 3).attr("y2", y(MAXBITS)).attr("stroke", "#000").attr("stroke-width", 2.5);
      d3.range(0, 22).forEach((k) => {
        const v = k * 0.2;
        const yy = y(v);
        const major = k % 5 === 0;
        g.append("line").attr("x1", AXIS_X - (major ? 12 : 8)).attr("x2", AXIS_X).attr("y1", yy).attr("y2", yy).attr("stroke", "#000").attr("stroke-width", 2);
      });
      yTickLabels.forEach((t, k) => {
        g.append("text").text(t).attr("x", AXIS_X - 16).attr("y", y(k) + 10).attr("text-anchor", "end")
          .attr("font-family", labelFont).attr("font-size", 28).attr("fill", "#000");
      });
      g.append("text").text("bits").attr("transform", `translate(41,${y(MAXBITS / 2)}) rotate(-90)`).attr("text-anchor", "middle")
        .attr("font-family", labelFont).attr("font-size", 31).attr("fill", "#000");
    });

    svg.append("text").text(footer).attr("x", 3745).attr("y", 2368).attr("text-anchor", "end")
      .attr("font-family", labelFont).attr("font-size", 22).attr("fill", "#000");
  }, []);

  return <svg ref={ref} width={WIDTH} height={HEIGHT} style={{ position: "absolute", left: 0, top: 0, display: "block" }} />;
}
